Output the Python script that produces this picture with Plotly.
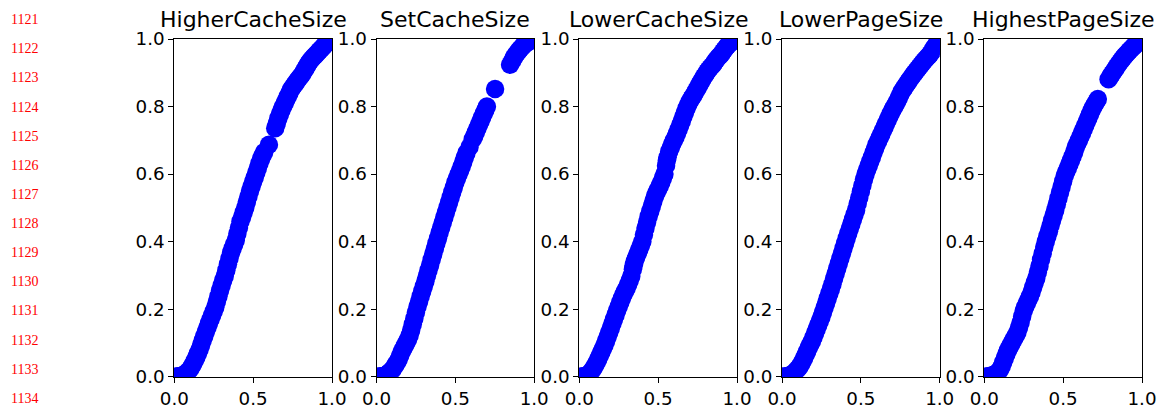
import plotly.graph_objects as go

W, H = 1159, 409

titles = ["HigherCacheSize", "SetCacheSize", "LowerCacheSize", "LowerPageSize", "HighestPageSize"]

# ---- HigherCacheSize ----
higher_cache_x = [0.00, 0.01, 0.02, 0.03, 0.04, 0.05, 0.06, 0.07, 0.08, 0.09, 0.10, 0.11, 0.12, 0.13, 0.14,
                  0.15, 0.16, 0.17, 0.18, 0.19, 0.20, 0.21, 0.22, 0.23, 0.24, 0.25, 0.26, 0.27, 0.28, 0.29,
                  0.30, 0.31, 0.32, 0.33, 0.34, 0.35, 0.36, 0.37, 0.38, 0.39, 0.40, 0.41, 0.42, 0.43, 0.44,
                  0.45, 0.46, 0.47, 0.48, 0.49, 0.50, 0.51, 0.52, 0.53, 0.54, 0.55, 0.56, 0.57, 0.60, 0.64,
                  0.65, 0.66, 0.67, 0.68, 0.69, 0.70, 0.71, 0.72, 0.73, 0.74, 0.75, 0.76, 0.77, 0.78, 0.79,
                  0.80, 0.81, 0.82, 0.83, 0.84, 0.85, 0.86, 0.87, 0.88, 0.89, 0.90, 0.91, 0.92, 0.93, 0.94,
                  0.95, 0.96, 0.97, 0.98, 0.99, 1.00]
higher_cache_y = [0.0, 0.0, 0.0, 0.001, 0.002, 0.003, 0.006, 0.009, 0.012, 0.017, 0.022, 0.03, 0.038, 0.048, 0.058,
                  0.069, 0.08, 0.094, 0.107, 0.12, 0.133, 0.145, 0.158, 0.17, 0.182, 0.194, 0.206, 0.222, 0.238, 0.255,
                  0.27, 0.285, 0.298, 0.315, 0.333, 0.35, 0.368, 0.38, 0.392, 0.405, 0.423, 0.441, 0.46, 0.473, 0.487,
                  0.5, 0.517, 0.533, 0.55, 0.563, 0.577, 0.59, 0.604, 0.618, 0.632, 0.645, 0.655, 0.665, 0.687, 0.736,
                  0.75, 0.765, 0.778, 0.79, 0.8, 0.81, 0.82, 0.83, 0.84, 0.85, 0.857, 0.864, 0.87, 0.877, 0.883,
                  0.889, 0.895, 0.903, 0.911, 0.919, 0.927, 0.934, 0.94, 0.945, 0.95, 0.955, 0.96, 0.965, 0.97, 0.975,
                  0.98, 0.985, 0.99, 0.994, 0.997, 1.0]

# ---- SetCacheSize ----
set_cache_x = [0.00, 0.01, 0.02, 0.03, 0.04, 0.05, 0.06, 0.07, 0.08, 0.09, 0.10, 0.11, 0.12, 0.13, 0.14,
               0.15, 0.16, 0.17, 0.18, 0.19, 0.20, 0.21, 0.22, 0.23, 0.24, 0.25, 0.26, 0.27, 0.28, 0.29,
               0.30, 0.31, 0.32, 0.33, 0.34, 0.35, 0.36, 0.37, 0.38, 0.39, 0.40, 0.41, 0.42, 0.43, 0.44,
               0.45, 0.46, 0.47, 0.48, 0.49, 0.50, 0.51, 0.52, 0.53, 0.54, 0.55, 0.56, 0.57, 0.59, 0.61,
               0.62, 0.63, 0.64, 0.65, 0.66, 0.67, 0.68, 0.69, 0.70, 0.752, 0.847, 0.86, 0.87, 0.88, 0.89,
               0.90, 0.91, 0.92, 0.93, 0.94, 0.953, 0.97, 0.98, 1.00]
set_cache_y = [0.0, 0.0, 0.0, 0.001, 0.002, 0.003, 0.005, 0.008, 0.012, 0.016, 0.02, 0.027, 0.035, 0.042, 0.05,
               0.062, 0.074, 0.083, 0.092, 0.101, 0.11, 0.122, 0.138, 0.155, 0.172, 0.19, 0.207, 0.222, 0.238, 0.253,
               0.268, 0.283, 0.299, 0.315, 0.331, 0.347, 0.363, 0.379, 0.395, 0.41, 0.426, 0.441, 0.456, 0.471, 0.486,
               0.501, 0.516, 0.531, 0.546, 0.56, 0.575, 0.587, 0.599, 0.61, 0.622, 0.636, 0.649, 0.662, 0.68, 0.703,
               0.713, 0.724, 0.735, 0.746, 0.757, 0.768, 0.779, 0.79, 0.80, 0.852, 0.924, 0.935, 0.944, 0.952, 0.958,
               0.964, 0.97, 0.975, 0.98, 0.985, 0.988, 0.994, 0.997, 1.0]

# ---- LowerCacheSize ----
lower_cache_x = [0.00, 0.01, 0.02, 0.03, 0.04, 0.05, 0.06, 0.07, 0.08, 0.09, 0.10, 0.11, 0.12, 0.13, 0.14,
                 0.15, 0.16, 0.17, 0.18, 0.19, 0.20, 0.21, 0.22, 0.23, 0.24, 0.25, 0.26, 0.27, 0.28, 0.29,
                 0.30, 0.31, 0.32, 0.33, 0.34, 0.345, 0.35, 0.36, 0.37, 0.38, 0.39, 0.40, 0.41, 0.42, 0.43,
                 0.44, 0.45, 0.46, 0.47, 0.48, 0.49, 0.50, 0.51, 0.52, 0.53, 0.54, 0.55, 0.555, 0.56, 0.57,
                 0.58, 0.59, 0.60, 0.61, 0.62, 0.63, 0.64, 0.65, 0.66, 0.67, 0.68, 0.69, 0.70, 0.71, 0.72,
                 0.73, 0.74, 0.75, 0.76, 0.77, 0.78, 0.79, 0.80, 0.81, 0.82, 0.83, 0.84, 0.85, 0.86, 0.87,
                 0.88, 0.89, 0.90, 0.91, 0.92, 0.93, 0.94, 0.95, 0.96, 0.98, 1.00]
lower_cache_y = [0.0, 0.0, 0.0, 0.001, 0.002, 0.004, 0.007, 0.012, 0.018, 0.025, 0.033, 0.042, 0.052, 0.062, 0.073,
                 0.083, 0.094, 0.106, 0.118, 0.131, 0.144, 0.157, 0.17, 0.183, 0.196, 0.208, 0.22, 0.232, 0.243, 0.253,
                 0.262, 0.273, 0.285, 0.298, 0.318, 0.33, 0.34, 0.352, 0.364, 0.376, 0.388, 0.40, 0.42, 0.44, 0.458,
                 0.475, 0.49, 0.505, 0.52, 0.535, 0.545, 0.555, 0.565, 0.575, 0.588, 0.60, 0.625, 0.64, 0.65, 0.667,
                 0.678, 0.69, 0.70, 0.71, 0.721, 0.733, 0.745, 0.757, 0.77, 0.782, 0.795, 0.805, 0.815, 0.823, 0.83,
                 0.838, 0.847, 0.855, 0.864, 0.872, 0.88, 0.888, 0.895, 0.903, 0.909, 0.915, 0.92, 0.925, 0.933, 0.939,
                 0.945, 0.95, 0.955, 0.962, 0.968, 0.975, 0.98, 0.985, 0.99, 0.995, 1.0]

# ---- LowerPageSize ----
lower_page_x = [0.00, 0.01, 0.02, 0.03, 0.04, 0.05, 0.06, 0.07, 0.08, 0.09, 0.10, 0.11, 0.12, 0.13, 0.14,
                0.15, 0.16, 0.17, 0.18, 0.19, 0.20, 0.21, 0.22, 0.23, 0.24, 0.25, 0.26, 0.27, 0.28, 0.29,
                0.30, 0.31, 0.32, 0.33, 0.34, 0.35, 0.36, 0.37, 0.38, 0.39, 0.40, 0.41, 0.42, 0.43, 0.44,
                0.45, 0.46, 0.47, 0.48, 0.49, 0.50, 0.51, 0.52, 0.53, 0.54, 0.55, 0.56, 0.57, 0.58, 0.59,
                0.60, 0.61, 0.62, 0.63, 0.64, 0.65, 0.66, 0.67, 0.68, 0.69, 0.70, 0.71, 0.72, 0.73, 0.74,
                0.75, 0.76, 0.77, 0.78, 0.79, 0.80, 0.81, 0.82, 0.83, 0.84, 0.85, 0.86, 0.87, 0.88, 0.89,
                0.90, 0.91, 0.92, 0.93, 0.94, 0.95, 0.96, 0.97, 0.98, 0.99, 1.00]
lower_page_y = [0.0, 0.0, 0.0, 0.001, 0.002, 0.004, 0.006, 0.009, 0.013, 0.018, 0.023, 0.029, 0.036, 0.045, 0.055,
                0.065, 0.075, 0.086, 0.096, 0.105, 0.117, 0.129, 0.141, 0.153, 0.165, 0.177, 0.19, 0.204, 0.218, 0.232,
                0.246, 0.26, 0.274, 0.29, 0.305, 0.32, 0.335, 0.35, 0.365, 0.38, 0.395, 0.41, 0.424, 0.438, 0.452,
                0.466, 0.48, 0.494, 0.512, 0.53, 0.548, 0.566, 0.584, 0.60, 0.613, 0.625, 0.638, 0.65, 0.663, 0.675,
                0.688, 0.698, 0.708, 0.718, 0.729, 0.739, 0.75, 0.76, 0.77, 0.78, 0.79, 0.798, 0.806, 0.815, 0.825,
                0.835, 0.845, 0.852, 0.859, 0.866, 0.873, 0.88, 0.886, 0.893, 0.899, 0.905, 0.911, 0.917, 0.923, 0.929,
                0.935, 0.94, 0.945, 0.95, 0.956, 0.962, 0.972, 0.978, 0.985, 0.99, 0.995]

# ---- HighestPageSize ----
highest_page_x = [0.00, 0.01, 0.02, 0.03, 0.04, 0.05, 0.06, 0.07, 0.08, 0.09, 0.10, 0.11, 0.12, 0.13, 0.14,
                  0.15, 0.16, 0.17, 0.18, 0.19, 0.20, 0.21, 0.22, 0.23, 0.24, 0.25, 0.26, 0.27, 0.28, 0.29,
                  0.30, 0.31, 0.32, 0.33, 0.34, 0.35, 0.36, 0.37, 0.38, 0.39, 0.40, 0.41, 0.42, 0.43, 0.44,
                  0.45, 0.46, 0.47, 0.48, 0.49, 0.50, 0.51, 0.52, 0.53, 0.54, 0.55, 0.56, 0.57, 0.58, 0.59,
                  0.60, 0.61, 0.62, 0.63, 0.64, 0.65, 0.66, 0.67, 0.68, 0.69, 0.70, 0.71, 0.72, 0.788, 0.80,
                  0.81, 0.82, 0.83, 0.84, 0.85, 0.86, 0.87, 0.88, 0.89, 0.90, 0.91, 0.92, 0.93, 0.94, 0.95,
                  0.96, 0.97, 0.98, 0.99, 1.00]
highest_page_y = [0.0, 0.0, 0.0, 0.001, 0.002, 0.004, 0.006, 0.008, 0.01, 0.015, 0.021, 0.03, 0.043, 0.055, 0.067,
                  0.078, 0.087, 0.096, 0.105, 0.114, 0.122, 0.131, 0.145, 0.16, 0.178, 0.195, 0.207, 0.218, 0.228, 0.238,
                  0.251, 0.265, 0.279, 0.292, 0.31, 0.328, 0.347, 0.365, 0.384, 0.40, 0.416, 0.431, 0.447, 0.463, 0.479,
                  0.494, 0.511, 0.528, 0.545, 0.562, 0.579, 0.595, 0.607, 0.618, 0.63, 0.641, 0.653, 0.665, 0.68, 0.69,
                  0.70, 0.711, 0.722, 0.733, 0.744, 0.755, 0.766, 0.777, 0.788, 0.798, 0.806, 0.814, 0.822, 0.881, 0.89,
                  0.897, 0.904, 0.911, 0.918, 0.925, 0.932, 0.938, 0.944, 0.95, 0.955, 0.96, 0.965, 0.97, 0.975, 0.979,
                  0.984, 0.989, 0.993, 0.996, 0.998]

series_x = [higher_cache_x, set_cache_x, lower_cache_x, lower_page_x, highest_page_x]
series_y = [higher_cache_y, set_cache_y, lower_cache_y, lower_page_y, highest_page_y]

x_tick_vals = [0.0, 0.5, 1.0]
x_tick_text = ["0.0", "0.5", "1.0"]
y_tick_vals = [0.0, 0.2, 0.4, 0.6, 0.8, 1.0]
y_tick_text = ["0.0", "0.2", "0.4", "0.6", "0.8", "1.0"]

line_numbers = ["1121", "1122", "1123", "1124", "1125", "1126", "1127",
                "1128", "1129", "1130", "1131", "1132", "1133", "1134"]

# layout geometry (pixels)
axes_left_px = [174.3, 376.5, 579.3, 782.0, 984.3]
axes_width_px = 157.7
axes_top_px = 39.0
axes_bottom_px = 376.7

tick_font = dict(family="DejaVu Sans", size=18.3, color="black")
title_font = dict(family="DejaVu Sans", size=22, color="black")

fig = go.Figure()
layout = dict(
    width=W, height=H,
    margin=dict(l=0, r=0, t=0, b=0, autoexpand=False),
    paper_bgcolor="white", plot_bgcolor="white",
    showlegend=False,
    annotations=[],
)

ydom = [1 - axes_bottom_px / H, 1 - axes_top_px / H]
for i in range(5):
    n = "" if i == 0 else str(i + 1)
    xd = [axes_left_px[i] / W, (axes_left_px[i] + axes_width_px) / W]
    common = dict(showline=True, mirror=True, linecolor="black", linewidth=1,
                  ticks="outside", ticklen=5, tickwidth=1, tickcolor="black",
                  showgrid=False, zeroline=False, tickfont=tick_font, automargin=False)
    layout["xaxis" + n] = dict(domain=xd, range=[0, 1], anchor="y" + n,
                               tickvals=x_tick_vals, ticktext=x_tick_text, **common)
    layout["yaxis" + n] = dict(domain=ydom, range=[0, 1], anchor="x" + n,
                               tickvals=y_tick_vals, ticktext=y_tick_text, **common)
    fig.add_trace(go.Scatter(
        x=series_x[i], y=series_y[i], mode="markers",
        marker=dict(color="#0000ff", size=18.5, line=dict(width=0)),
        xaxis="x" + n, yaxis="y" + n, cliponaxis=True,
    ))
    layout["annotations"].append(dict(
        text=titles[i], xref="paper", yref="paper",
        x=(axes_left_px[i] + axes_width_px / 2) / W, y=1 - 33.5 / H,
        xanchor="center", yanchor="bottom", showarrow=False, font=title_font,
    ))

for k, s in enumerate(line_numbers):
    layout["annotations"].append(dict(
        text=s, xref="paper", yref="paper",
        x=9 / W, y=1 - (19.7 + 29.12 * k) / H,
        xanchor="left", yanchor="middle", showarrow=False,
        font=dict(family="Liberation Serif", size=14, color="red"),
    ))

fig.update_layout(**layout)
fig.write_html("out.html")
